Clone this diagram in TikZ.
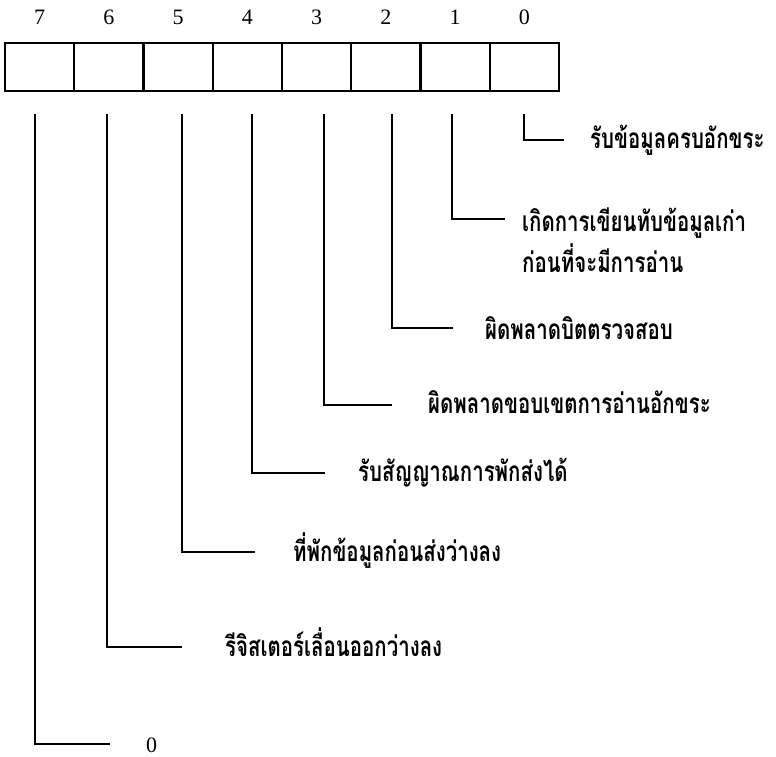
\documentclass[tikz,border=0pt]{standalone}
\usepackage{fontspec}
\setmainfont{Liberation Serif}
\newfontfamily\thaifont[Script=Thai,FakeStretch=0.73]{Loma}
\begin{document}
\begin{tikzpicture}[x=1pt,y=-1pt,
  cell/.style={draw,line width=2.4pt,minimum width=69.25pt,minimum height=48pt,inner sep=0pt,outer sep=0pt},
  bitno/.style={font=\fontsize{22}{24}\selectfont,inner sep=0pt},
  leader/.style={line width=1.7pt},
  desc/.style={font=\thaifont\bfseries\fontsize{28}{41}\selectfont,anchor=base west,inner sep=0pt,align=left}]
\useasboundingbox (0,0) rectangle (776,757);
% register cells, bit 7 on the left
\foreach \b [count=\i from 0] in {7,6,5,4,3,2,1,0}{
  \node[cell] (c\b) at (39.6+\i*69.25,67) {};
  \node[bitno] (n\b) at (39.6+\i*69.25,17) {\b};
}
% leader lines: vertical drop, then a short run to the right
\foreach \b/\x/\y in {0/524/140,1/452/219,2/392/328,3/324/405,4/252/473,5/182/552,6/107/647,7/35/744}{
  \coordinate (t\b) at (\x,114);
  \coordinate (k\b) at (\x,\y);
}
\coordinate (e0) at (564,140);
\coordinate (e1) at (505,219);
\coordinate (e2) at (453,328);
\coordinate (e3) at (392,405);
\coordinate (e4) at (325,473);
\coordinate (e5) at (255,552);
\coordinate (e6) at (182,647);
\coordinate (e7) at (110,744);
\foreach \b in {0,...,7}{\draw[leader] (t\b) -- (k\b) -- (e\b);}
% descriptions
\node[desc] (d0) at (590,148) {รับข้อมูลครบอักขระ};
\node[desc] (d1) at (522,231) {เกิดการเขียนทับข้อมูลเก่า};
\node[desc] (d1b) at (522,272) {ก่อนที่จะมีการอ่าน};
\node[desc] (d2) at (485,339) {ผิดพลาดบิตตรวจสอบ};
\node[desc] (d3) at (428,413) {ผิดพลาดขอบเขตการอ่านอักขระ};
\node[desc] (d4) at (358,481) {รับสัญญาณการพักส่งได้};
\node[desc] (d5) at (293,561) {ที่พักข้อมูลก่อนส่งว่างลง};
\node[desc] (d6) at (225,656) {รีจิสเตอร์เลื่อนออกว่างลง};
\node[bitno,anchor=base west] (d7) at (146,752) {0};
\end{tikzpicture}
\end{document}
